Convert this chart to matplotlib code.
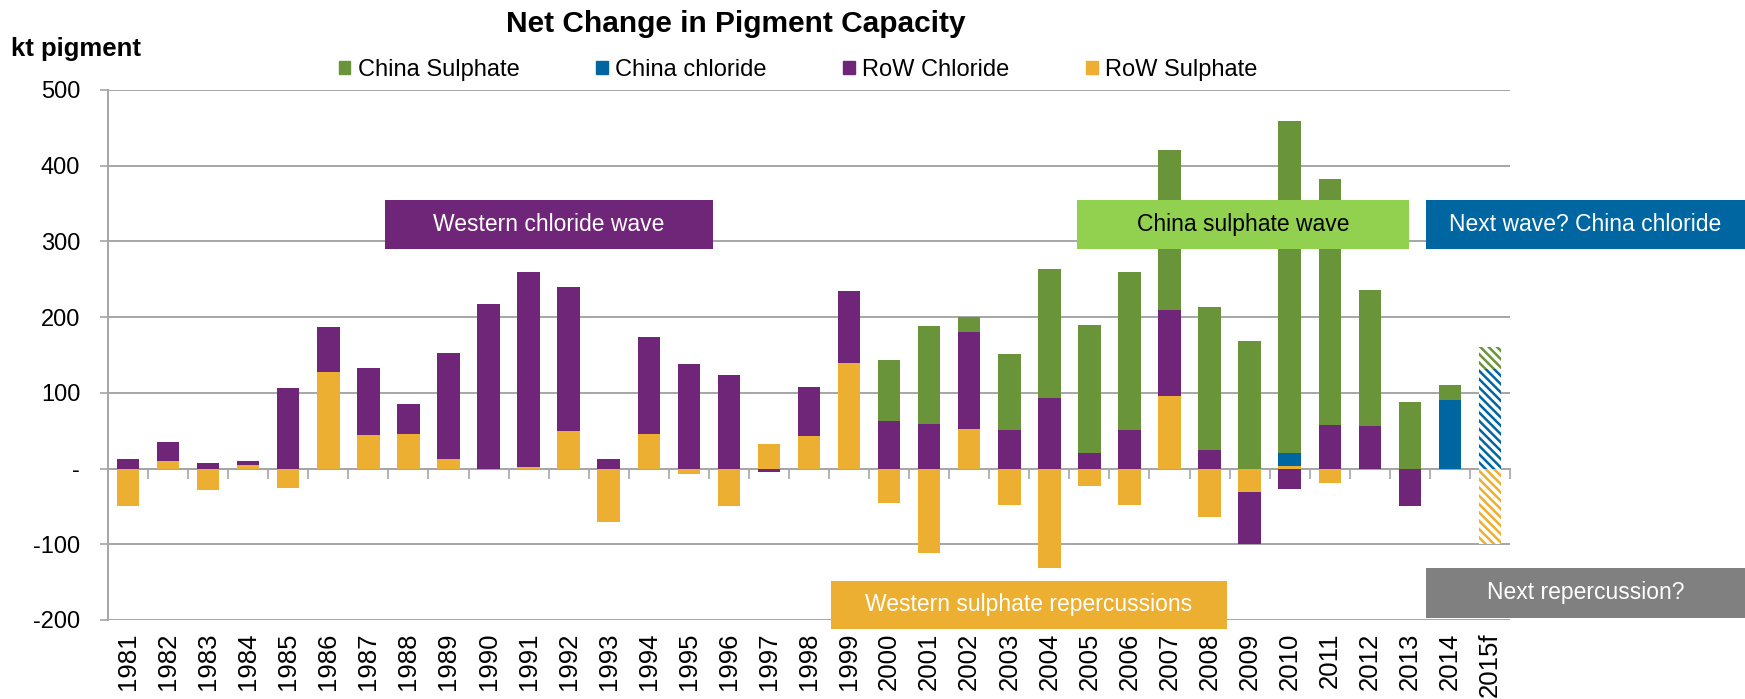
import numpy as np
import matplotlib.pyplot as plt
from matplotlib.patches import Rectangle, Patch

plt.rcParams['font.family'] = ['Liberation Sans', 'DejaVu Sans']
plt.rcParams['hatch.linewidth'] = 1.8

# categories
years = ['1981', '1982', '1983', '1984', '1985', '1986', '1987', '1988', '1989', '1990',
         '1991', '1992', '1993', '1994', '1995', '1996', '1997', '1998', '1999', '2000',
         '2001', '2002', '2003', '2004', '2005', '2006', '2007', '2008', '2009', '2010',
         '2011', '2012', '2013', '2014', '2015f']

# kt pigment
row_sulphate = [-50, 10, -28, 5, -25, 128, 44, 46, 13, 0,
                2, 49, -71, 46, -7, -50, 33, 43, 140, -46,
                -111, 52, -48, -131, -23, -48, 96, -64, -31, 3,
                -19, 0, 0, 0, -100]
row_chloride = [13, 25, 7, 5, 107, 59, 89, 39, 140, 217,
                257, 191, 13, 128, 138, 123, -4, 65, 95, 63,
                59, 128, 51, 93, 20, 51, 114, 24, -69, -27,
                58, 56, -49, 0, 0]
china_chloride = [0, 0, 0, 0, 0, 0, 0, 0, 0, 0,
                  0, 0, 0, 0, 0, 0, 0, 0, 0, 0,
                  0, 0, 0, 0, 0, 0, 0, 0, 0, 17,
                  0, 0, 0, 90, 131]
china_sulphate = [0, 0, 0, 0, 0, 0, 0, 0, 0, 0,
                  0, 0, 0, 0, 0, 0, 0, 0, 0, 81,
                  129, 20, 100, 170, 170, 209, 211, 190, 169, 439,
                  325, 180, 88, 20, 30]

GREEN = '#6A9439'
BLUE = '#0066A1'
PURPLE = '#702678'
ORANGE = '#EDAF32'
LIGHTGREEN = '#92D050'
GREY = '#808080'
GRID = '#A6A6A6'

W, H = 1745, 699
fig = plt.figure(figsize=(W / 100, H / 100), dpi=100)
ax = fig.add_axes([108 / W, 1 - 620 / H, (1510 - 108) / W, (620 - 90) / H])

x = np.arange(len(years))
fc = np.array([y.endswith('f') for y in years])
pos = np.zeros(len(years))
neg = np.zeros(len(years))
# stack order from the axis outwards: RoW Sulphate, RoW Chloride, China chloride, China Sulphate
for vals, col in [(row_sulphate, ORANGE), (row_chloride, PURPLE),
                  (china_chloride, BLUE), (china_sulphate, GREEN)]:
    v = np.array(vals, dtype=float)
    base = np.where(v >= 0, pos, neg)
    ax.bar(x[~fc], v[~fc], 0.56, bottom=base[~fc], color=col, linewidth=0, zorder=3)
    # forecast year: hatched
    ax.bar(x[fc], v[fc], 0.56, bottom=base[fc], facecolor='white', edgecolor=col,
           hatch='\\' * 4, linewidth=0, zorder=3)
    pos += np.where(v > 0, v, 0)
    neg += np.where(v < 0, v, 0)

ax.set_xlim(-0.5, len(years) - 0.5)
ax.set_ylim(-200, 500)
ax.set_yticks(np.arange(-200, 501, 100))
ax.yaxis.set_major_formatter(lambda v, p: '-' if v == 0 else f'{v:.0f}')
ax.yaxis.grid(True, color=GRID, linewidth=1.4, zorder=0)
ax.set_axisbelow(True)

ax.set_xticks(x)
ax.set_xticklabels(years)
ax.set_xticks(np.arange(-0.5, len(years), 1), minor=True)
ax.tick_params(axis='x', which='major', length=0, pad=9, labelsize=18.5, labelrotation=90)
ax.tick_params(axis='x', which='minor', bottom=False, top=True, direction='in',
               length=7, color=GRID, width=1.2)
ax.tick_params(axis='y', length=6, color=GRID, width=1.2, labelsize=17, pad=14)

for s in ['right', 'bottom']:
    ax.spines[s].set_visible(False)
ax.spines['top'].set_position(('data', 0))
ax.spines['top'].set_color(GRID)
ax.spines['top'].set_linewidth(1.4)
ax.spines['left'].set_color(GRID)
ax.spines['left'].set_linewidth(1.4)

fig.text(736 / W, 1 - 24 / H, 'Net Change in Pigment Capacity', ha='center', va='center',
         fontsize=21.5, fontweight='bold')
fig.text(11 / W, 1 - 49 / H, 'kt pigment', ha='left', va='center', fontsize=18.5,
         fontweight='bold')

handles = [Patch(color=GREEN, label='China Sulphate'),
           Patch(color=BLUE, label='China chloride'),
           Patch(color=PURPLE, label='RoW Chloride'),
           Patch(color=ORANGE, label='RoW Sulphate')]
fig.legend(handles=handles, loc='center', bbox_to_anchor=(798 / W, 1 - 70 / H), ncol=4,
           frameon=False, fontsize=17, handlelength=0.5, handleheight=0.5,
           handletextpad=0.3, columnspacing=3.25)


def box(x0, y0, x1, y1, col, txt, tcol):
    fig.add_artist(Rectangle((x0 / W, 1 - y1 / H), (x1 - x0) / W, (y1 - y0) / H,
                             transform=fig.transFigure, facecolor=col, edgecolor='none',
                             zorder=5))
    fig.text((x0 + x1) / 2 / W, 1 - (y0 + y1) / 2 / H, txt, ha='center', va='center',
             color=tcol, fontsize=16.5, zorder=6)


box(385, 200, 713, 249, PURPLE, 'Western chloride wave', 'white')
box(1077, 200, 1409, 249, LIGHTGREEN, 'China sulphate wave', 'black')
box(1426, 200, 1745, 249, BLUE, 'Next wave? China chloride', 'white')
box(831, 581, 1227, 629, ORANGE, 'Western sulphate repercussions', 'white')
box(1426, 568, 1745, 618, GREY, 'Next repercussion?', 'white')

fig.savefig('out.png', dpi=100)
